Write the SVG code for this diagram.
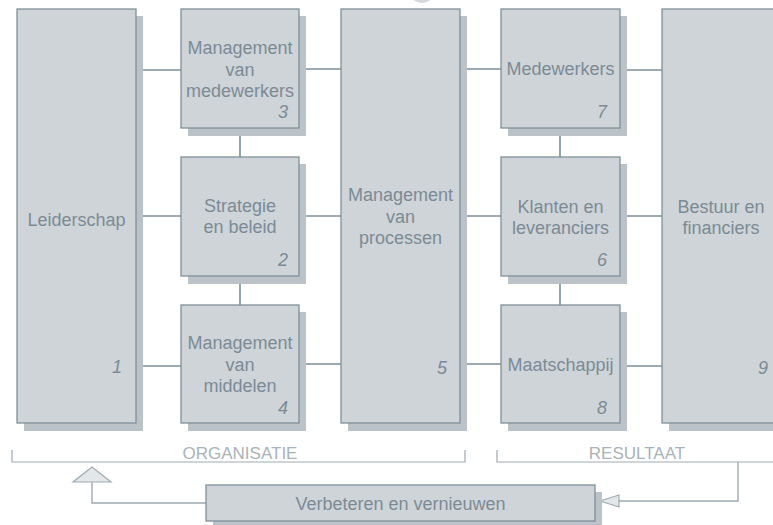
<svg xmlns="http://www.w3.org/2000/svg" width="773" height="525" viewBox="0 0 773 525">
<style>
.box{fill:#cfd4d8;stroke:#7f909a;stroke-width:1.3}
.sh{fill:#bcc3c8}
.t{font-family:"Liberation Sans",Arial,sans-serif;font-size:18px;fill:#7b8b95;text-anchor:middle}
.n{font-family:"Liberation Sans",Arial,sans-serif;font-size:18px;fill:#7b8b95;text-anchor:end;font-style:italic}
.c{stroke:#7d8e98;stroke-width:1.6;fill:none}
.br{stroke:#9eabb3;stroke-width:1.2;fill:none}
.lbl{font-family:"Liberation Sans",Arial,sans-serif;font-size:17px;fill:#a9b3ba;text-anchor:middle}
.fb{stroke:#9eabb3;stroke-width:1.4;fill:none}
.tri{fill:#e4e7e9;stroke:#9eabb3;stroke-width:1.2}
</style>
<circle cx="422" cy="-10" r="13" fill="#d3d8db"/>
<g id="connectors">
<line class="c" x1="136" y1="70" x2="181" y2="70"/>
<line class="c" x1="299" y1="69" x2="341" y2="69"/>
<line class="c" x1="460" y1="69" x2="501" y2="69"/>
<line class="c" x1="620" y1="70" x2="662" y2="70"/>
<line class="c" x1="136" y1="216" x2="181" y2="216"/>
<line class="c" x1="299" y1="216" x2="341" y2="216"/>
<line class="c" x1="460" y1="216" x2="501" y2="216"/>
<line class="c" x1="620" y1="216" x2="662" y2="216"/>
<line class="c" x1="136" y1="366" x2="181" y2="366"/>
<line class="c" x1="299" y1="364" x2="341" y2="364"/>
<line class="c" x1="460" y1="364" x2="501" y2="364"/>
<line class="c" x1="620" y1="366" x2="662" y2="366"/>
<line class="c" x1="240" y1="128" x2="240" y2="157"/>
<line class="c" x1="240" y1="276" x2="240" y2="305"/>
<line class="c" x1="560" y1="128" x2="560" y2="157"/>
<line class="c" x1="560" y1="276" x2="560" y2="305"/>
<polyline class="fb" points="738,462 738,501 619,501"/>
<polygon class="tri" points="600,501 619,495 619,507"/>
<polyline class="fb" points="206,503 92,503 92,482"/>
<polygon class="tri" points="92,467 73,482 111,482"/>
</g>
<g id="brackets">
<polyline class="br" points="12,450 12,462 465,462 465,450"/>
<text class="lbl" x="240" y="459">ORGANISATIE</text>
<polyline class="br" points="497,450 497,462 773,462"/>
<text class="lbl" x="637" y="459">RESULTAAT</text>
</g>
<g id="n1">
<rect class="sh" x="24" y="16" width="119" height="415"/>
<rect class="box" x="17" y="9" width="119" height="414"/>
<text class="t" x="76.5" y="226">Leiderschap</text>
<text class="n" x="122" y="373">1</text>
</g>
<g id="n3">
<rect class="sh" x="188" y="16" width="118" height="120"/>
<rect class="box" x="181" y="9" width="118" height="119"/>
<text class="t" x="240" y="54">Management</text>
<text class="t" x="240" y="75.5">van</text>
<text class="t" x="240" y="97">medewerkers</text>
<text class="n" x="288" y="118">3</text>
</g>
<g id="n2">
<rect class="sh" x="188" y="164" width="118" height="120"/>
<rect class="box" x="181" y="157" width="118" height="119"/>
<text class="t" x="240" y="212">Strategie</text>
<text class="t" x="240" y="233">en beleid</text>
<text class="n" x="288" y="266">2</text>
</g>
<g id="n4">
<rect class="sh" x="188" y="312" width="118" height="119"/>
<rect class="box" x="181" y="305" width="118" height="118"/>
<text class="t" x="240" y="349">Management</text>
<text class="t" x="240" y="370.5">van</text>
<text class="t" x="240" y="392">middelen</text>
<text class="n" x="288" y="414">4</text>
</g>
<g id="n5">
<rect class="sh" x="348" y="16" width="119" height="415"/>
<rect class="box" x="341" y="9" width="119" height="414"/>
<text class="t" x="400.5" y="201">Management</text>
<text class="t" x="400.5" y="222.5">van</text>
<text class="t" x="400.5" y="244">processen</text>
<text class="n" x="447" y="374">5</text>
</g>
<g id="n7">
<rect class="sh" x="508" y="16" width="119" height="120"/>
<rect class="box" x="501" y="9" width="119" height="119"/>
<text class="t" x="560.5" y="75">Medewerkers</text>
<text class="n" x="607" y="118">7</text>
</g>
<g id="n6">
<rect class="sh" x="508" y="164" width="119" height="120"/>
<rect class="box" x="501" y="157" width="119" height="119"/>
<text class="t" x="560.5" y="213">Klanten en</text>
<text class="t" x="560.5" y="234">leveranciers</text>
<text class="n" x="607" y="266">6</text>
</g>
<g id="n8">
<rect class="sh" x="508" y="312" width="119" height="119"/>
<rect class="box" x="501" y="305" width="119" height="118"/>
<text class="t" x="560.5" y="371">Maatschappij</text>
<text class="n" x="607" y="414">8</text>
</g>
<g id="n9">
<rect class="sh" x="669" y="16" width="118" height="415"/>
<rect class="box" x="662" y="9" width="118" height="414"/>
<text class="t" x="721" y="213">Bestuur en</text>
<text class="t" x="721" y="234">financiers</text>
<text class="n" x="768" y="374">9</text>
</g>
<g id="n10">
<rect class="sh" x="213" y="492" width="389" height="36"/>
<rect class="box" x="206" y="485" width="389" height="36"/>
<text class="t" x="400.5" y="510">Verbeteren en vernieuwen</text>
</g>
</svg>
